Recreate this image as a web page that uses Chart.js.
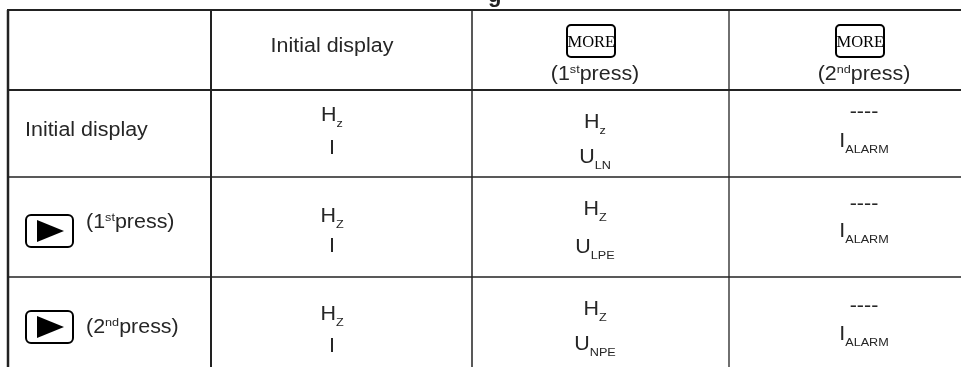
<!DOCTYPE html>
<html>
<head>
<meta charset="utf-8">
<script src="https://cdn.jsdelivr.net/npm/chart.js@4/dist/chart.umd.min.js"></script>
<style>
  html,body{ margin:0; padding:0; background:#fff; }
  #wrap{ width:961px; height:367px; position:relative; }
</style>
</head>
<body>
<div id="wrap"><canvas id="chart-table"></canvas></div>
<script>
// table content
const headerKeys = [null, null, 'MORE', 'MORE'];
const headerText = [
  [],
  [['Initial display']],
  [['(1'], ['st', 'sup'], ['press)']],
  [['(2'], ['nd', 'sup'], ['press)']]
];
const rowKeys = [null, '▶', '▶'];
const rowText = [
  [['Initial display']],
  [['(1'], ['st', 'sup'], ['press)']],
  [['(2'], ['nd', 'sup'], ['press)']]
];
const cellsInitial = [
  [[['H'], ['z', 'sub']], [['I']]],
  [[['H'], ['Z', 'sub']], [['I']]],
  [[['H'], ['Z', 'sub']], [['I']]]
];
const cellsFirst = [
  [[['H'], ['z', 'sub']], [['U'], ['LN', 'sub']]],
  [[['H'], ['Z', 'sub']], [['U'], ['LPE', 'sub']]],
  [[['H'], ['Z', 'sub']], [['U'], ['NPE', 'sub']]]
];
const cellsSecond = [
  [[['----']], [['I'], ['ALARM', 'sub']]],
  [[['----']], [['I'], ['ALARM', 'sub']]],
  [[['----']], [['I'], ['ALARM', 'sub']]]
];

// layout (in canvas units of the hidden linear scales)
const colEdges = [8, 211, 472, 729, 995];
const rowEdges = [10, 90, 177, 277, 377];
const colMid = [null, 332, 595, 864];
const headBase = [null, 52, 80, 80];
const rowLabelBase = [46, 51, 56];
const rowKeyTop = [null, 38, 34];
const cellBase = [
  [[31, 64], [38, 73], [28, 57]],
  [[45, 75], [38, 76], [33, 60]],
  [[43, 75], [38, 73], [35, 63]]
];

const FONT = 'Liberation Sans, Arial, sans-serif';
const MAIN = 19.5, SMALL = 11.5, STRETCH = 1.1;
const TEXT = '#262626', LINE = '#222';

function drawRuns(ctx, runs, x, y, align){
  const parts = runs.map(r => {
    const size = r[1] ? SMALL : MAIN;
    ctx.font = size + 'px ' + FONT;
    return { t:r[0], size, dy: r[1] === 'sub' ? 6 : r[1] === 'sup' ? -7 : 0, w: ctx.measureText(r[0]).width * STRETCH };
  });
  const total = parts.reduce((s,p) => s + p.w, 0);
  let cx = align === 'center' ? x - total/2 : x;
  ctx.fillStyle = TEXT;
  ctx.textBaseline = 'alphabetic';
  ctx.textAlign = 'left';
  parts.forEach(p => {
    ctx.save();
    ctx.font = p.size + 'px ' + FONT;
    ctx.translate(cx, y + p.dy);
    ctx.scale(STRETCH, 1);
    ctx.fillText(p.t, 0, 0);
    ctx.restore();
    cx += p.w;
  });
}

function roundBox(ctx, x, y, w, h, r){
  ctx.beginPath();
  ctx.roundRect(x, y, w, h, r);
  ctx.lineWidth = 2;
  ctx.strokeStyle = '#000';
  ctx.stroke();
}

const tablePlugin = {
  id:'tablePlugin',
  afterDraw(chart){
    const ctx = chart.ctx;
    const xs = chart.scales.x, ys = chart.scales.y;
    const X = v => xs.getPixelForValue(v);
    const Y = v => ys.getPixelForValue(v);

    // cut-off title fragment
    ctx.save();
    ctx.fillStyle = '#222';
    ctx.font = 'bold 22px ' + FONT;
    ctx.fillText('g', X(488), Y(1.5));
    ctx.restore();

    // grid lines
    const vWidths = [2.5, 2, 1.5, 1.3];
    const hWidths = [2, 2, 1.3, 1.3];
    ctx.save();
    ctx.strokeStyle = LINE;
    for(let i = 0; i < 4; i++){
      ctx.lineWidth = vWidths[i];
      ctx.beginPath();
      ctx.moveTo(X(colEdges[i]), Y(rowEdges[0]));
      ctx.lineTo(X(colEdges[i]), Y(rowEdges[4]));
      ctx.stroke();
    }
    for(let j = 0; j < 4; j++){
      ctx.lineWidth = hWidths[j];
      ctx.beginPath();
      ctx.moveTo(X(colEdges[0]) - 1, Y(rowEdges[j]));
      ctx.lineTo(X(colEdges[4]), Y(rowEdges[j]));
      ctx.stroke();
    }
    ctx.restore();

    // header row
    for(let c = 1; c < 4; c++){
      if(headerKeys[c]){
        const bx = X(colMid[c]) - 28, by = Y(rowEdges[0] + 15);
        ctx.save();
        roundBox(ctx, bx, by, 48, 32, 4);
        ctx.fillStyle = '#000';
        ctx.font = '16.5px Liberation Serif, Times New Roman, serif';
        ctx.fillText(headerKeys[c], bx + 0.5, by + 22);
        ctx.restore();
      }
      drawRuns(ctx, headerText[c], X(colMid[c]), Y(headBase[c]), 'center');
    }

    // body rows
    const bodyCols = [cellsInitial, cellsFirst, cellsSecond];
    for(let r = 0; r < 3; r++){
      const top = rowEdges[r + 1];
      let lx = 25;
      if(rowKeys[r]){
        const bx = X(26), by = Y(top + rowKeyTop[r]);
        ctx.save();
        roundBox(ctx, bx, by, 47, 32, 5);
        ctx.fillStyle = '#000';
        ctx.beginPath();
        ctx.moveTo(bx + 11, by + 5);
        ctx.lineTo(bx + 38, by + 16);
        ctx.lineTo(bx + 11, by + 27);
        ctx.closePath();
        ctx.fill();
        ctx.restore();
        lx = 86;
      }
      drawRuns(ctx, rowText[r], X(lx), Y(top + rowLabelBase[r]), 'left');
      bodyCols.forEach((col, ci) => {
        col[r].forEach((line, li) => {
          drawRuns(ctx, line, X(colMid[ci + 1]), Y(top + cellBase[r][ci][li]), 'center');
        });
      });
    }
  }
};

new Chart(document.getElementById('chart-table'), {
  type:'scatter',
  data:{ datasets:[{ data:[], pointRadius:0 }] },
  options:{
    responsive:true, maintainAspectRatio:false, animation:false,
    layout:{ padding:0 },
    plugins:{ legend:{ display:false }, tooltip:{ enabled:false } },
    scales:{
      x:{ type:'linear', min:0, max:961, display:false },
      y:{ type:'linear', min:0, max:367, reverse:true, display:false }
    }
  },
  plugins:[tablePlugin]
});
</script>
</body>
</html>
